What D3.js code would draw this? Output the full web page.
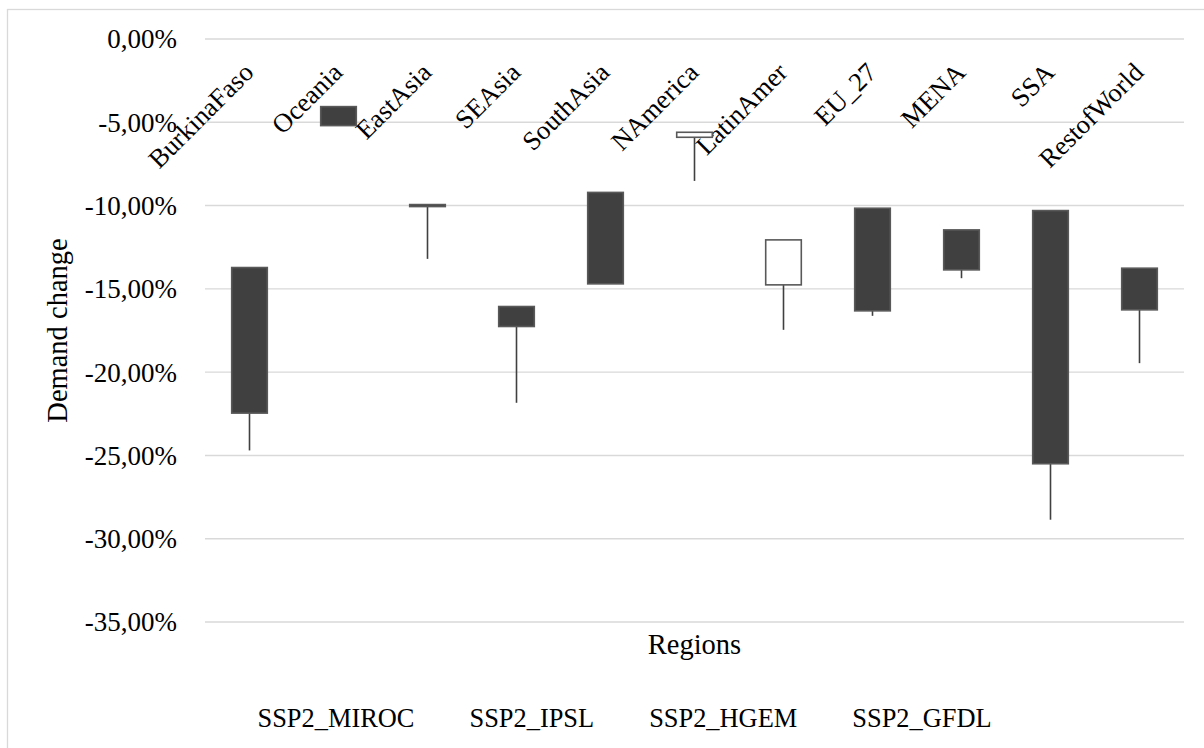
<!DOCTYPE html>
<html>
<head>
<meta charset="utf-8">
<script src="https://cdn.jsdelivr.net/npm/d3@7"></script>
<style>
  html, body { margin: 0; padding: 0; background: #fff; }
  svg { display: block; }
  text { font-family: "Liberation Serif", "Times New Roman", serif; fill: #000; }
</style>
</head>
<body>
<svg id="chart" width="1204" height="748"></svg>
<script>
// Regions on the category axis
const regions = ["BurkinaFaso", "Oceania", "EastAsia", "SEAsia", "SouthAsia", "NAmerica",
                 "LatinAmer", "EU_27", "MENA", "SSA", "RestofWorld"];

// Demand change (%) per scenario; plotted as open / high / low / close
const ssp2Miroc = [-13.72, -4.06, -9.94, -16.06, -9.21, -5.90, -14.76, -10.16, -11.46, -10.30, -13.76];
const ssp2Ipsl  = [-18.00, -4.60, -10.00, -16.60, -12.00, -5.75, -13.40, -13.20, -12.60, -17.90, -15.00];
const ssp2Hgem  = [-24.70, -4.90, -13.20, -21.84, -14.20, -8.52, -17.46, -16.62, -14.36, -28.86, -19.46];
const ssp2Gfdl  = [-22.46, -5.20, -10.06, -17.26, -14.70, -5.60, -12.06, -16.32, -13.86, -25.50, -16.26];

const seriesNames = ["SSP2_MIROC", "SSP2_IPSL", "SSP2_HGEM", "SSP2_GFDL"];
const yTicks = [0, -5, -10, -15, -20, -25, -30, -35];

const rows = regions.map((r, i) => ({
  region: r,
  open: ssp2Miroc[i],
  high: ssp2Ipsl[i],
  low: ssp2Hgem[i],
  close: ssp2Gfdl[i]
}));

const svg = d3.select("#chart");
const plot = { left: 205, right: 1184, top: 39, bottom: 622 };

// Chart frame
svg.append("rect")
  .attr("x", 7.5).attr("y", 9.5)
  .attr("width", 1210).attr("height", 760)
  .attr("fill", "none").attr("stroke", "#d9d9d9").attr("stroke-width", 1.3);

const x = d3.scaleBand().domain(regions).range([plot.left, plot.right]).paddingInner(0).paddingOuter(0);
const y = d3.scaleLinear().domain([-35, 0]).range([plot.bottom, plot.top]);

// Comma decimals and a plain hyphen for negatives
const locale = d3.formatLocale({ decimal: ",", thousands: ".", grouping: [3], currency: ["", ""], minus: "-" });
const fmt = v => locale.format(".2f")(v === 0 ? 0 : v) + "%";

// Horizontal gridlines
svg.append("g")
  .selectAll("line")
  .data(yTicks)
  .join("line")
  .attr("x1", plot.left).attr("x2", plot.right)
  .attr("y1", d => y(d)).attr("y2", d => y(d))
  .attr("stroke", "#d9d9d9").attr("stroke-width", 1.4);

// Value axis labels
const yAxis = d3.axisLeft(y).tickValues(yTicks).tickFormat(fmt).tickSize(0).tickPadding(0);
const yg = svg.append("g").attr("transform", `translate(177,0)`).call(yAxis);
yg.select(".domain").remove();
yg.selectAll("text")
  .attr("font-family", "'Liberation Serif', 'Times New Roman', serif")
  .attr("font-size", 27).attr("fill", "#000").attr("dy", "0.33em");

// Category labels, rotated under the zero line
svg.append("g")
  .selectAll("text")
  .data(regions)
  .join("text")
  .attr("text-anchor", "end")
  .attr("font-size", 26.5)
  .attr("transform", d => `translate(${x(d) + x.bandwidth() / 2 + 5.5},74) rotate(-45)`)
  .text(d => d);

const barW = x.bandwidth() / 2.5;
const cx = d => x(d.region) + x.bandwidth() / 2;

// High-low lines
svg.append("g")
  .selectAll("line")
  .data(rows)
  .join("line")
  .attr("x1", cx).attr("x2", cx)
  .attr("y1", d => y(d.high)).attr("y2", d => y(d.low))
  .attr("stroke", "#404040").attr("stroke-width", 1.6);

// Up / down bars between open and close
svg.append("g")
  .selectAll("rect")
  .data(rows)
  .join("rect")
  .attr("x", d => cx(d) - barW / 2)
  .attr("width", barW)
  .attr("y", d => y(Math.max(d.open, d.close)))
  .attr("height", d => Math.abs(y(d.open) - y(d.close)))
  .attr("fill", d => d.close > d.open ? "#ffffff" : "#404040")
  .attr("stroke", "#595959")
  .attr("stroke-width", 1.6);

// Axis titles
svg.append("text")
  .attr("text-anchor", "middle")
  .attr("font-size", 28.5)
  .attr("x", (plot.left + plot.right) / 2).attr("y", 654)
  .text("Regions");

svg.append("text")
  .attr("text-anchor", "middle")
  .attr("font-size", 28.5)
  .attr("transform", `translate(67,${(plot.top + plot.bottom) / 2}) rotate(-90)`)
  .text("Demand change");

// Legend (series carry no line or marker of their own)
const legend = svg.append("g");
let lx = 257.5;
seriesNames.forEach(name => {
  const t = legend.append("text")
    .attr("x", lx).attr("y", 727)
    .attr("font-size", 26.4)
    .text(name);
  lx += t.node().getComputedTextLength() + 55;
});
</script>
</body>
</html>
